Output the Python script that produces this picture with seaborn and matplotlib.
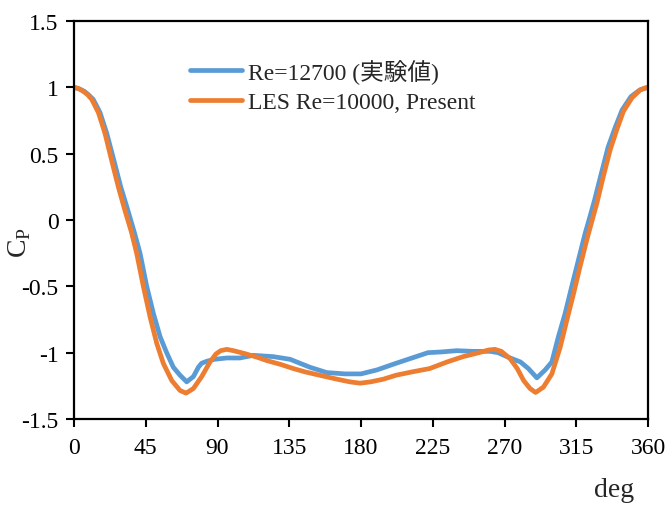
import numpy as np
import pandas as pd
import matplotlib
matplotlib.use("Agg")
import matplotlib.pyplot as plt
import seaborn as sns

# --- data ---
exp_deg = [0, 3, 6.5, 9, 12, 16.3, 20.5, 25, 29.3, 33.6, 38, 41.4, 45.6, 49.8, 54, 58.1,
           62.3, 66.5, 70.7, 74.9, 78, 80, 83.2, 88, 95.8, 104, 112.5, 125, 135.5, 148,
           158.5, 170, 180, 190, 202, 212, 222, 230, 240, 250, 261, 266, 271.5, 280, 285,
           290.3, 295.5, 299.7, 303.8, 308, 312.2, 316.4, 320.6, 323, 326.5, 330.7, 335,
           339.5, 343.8, 349.3, 354.8, 360]
exp_cp = [1.0, 0.99, 0.97, 0.945, 0.91, 0.81, 0.655, 0.45, 0.25, 0.08, -0.1, -0.25, -0.50,
          -0.705, -0.88, -1.0, -1.11, -1.17, -1.22, -1.18, -1.11, -1.08, -1.065, -1.05,
          -1.04, -1.04, -1.02, -1.03, -1.05, -1.11, -1.15, -1.16, -1.16, -1.13, -1.08,
          -1.04, -1.0, -0.995, -0.985, -0.99, -0.99, -1.0, -1.03, -1.07, -1.12, -1.19,
          -1.13, -1.07, -0.88, -0.705, -0.50, -0.30, -0.10, 0.0, 0.15, 0.35, 0.55, 0.70,
          0.83, 0.93, 0.98, 1.0]

les_deg = [0, 3, 5.8, 8.5, 11.1, 15.3, 19.4, 23.6, 27.8, 32, 36, 39.3, 43.5, 47.7, 51.9,
           56, 61.3, 66.5, 70.3, 74.9, 80.1, 85.3, 89, 92, 95.8, 100, 108, 115, 121, 130,
           137.6, 145, 154, 165, 173, 179.4, 186, 194, 202, 212, 223, 234, 244, 254, 260,
           264, 268, 273.5, 278, 282, 286, 289.5, 294.4, 299.7, 304.9, 309.1, 313.3,
           317.4, 321.6, 325, 327.9, 332, 336.3, 340.4, 344.6, 349.9, 355.1, 358, 360]
les_cp = [1.0, 0.99, 0.97, 0.945, 0.91, 0.81, 0.655, 0.45, 0.25, 0.07, -0.09, -0.25, -0.50,
          -0.73, -0.93, -1.08, -1.21, -1.285, -1.305, -1.27, -1.18, -1.07, -1.01, -0.985,
          -0.975, -0.985, -1.01, -1.035, -1.06, -1.09, -1.12, -1.145, -1.17, -1.20, -1.22,
          -1.23, -1.22, -1.20, -1.17, -1.145, -1.12, -1.07, -1.03, -1.0, -0.98, -0.975,
          -0.99, -1.045, -1.12, -1.21, -1.27, -1.30, -1.26, -1.16, -0.96, -0.755, -0.555,
          -0.35, -0.15, 0.0, 0.125, 0.33, 0.53, 0.68, 0.82, 0.92, 0.98, 0.995, 1.0]

series_names = ["Re=12700 (実験値)", "LES Re=10000, Present"]
series_colors = ["#5B9BD5", "#ED7D31"]
x_ticks = [0, 45, 90, 135, 180, 225, 270, 315, 360]
y_ticks = [-1.5, -1, -0.5, 0, 0.5, 1, 1.5]
y_tick_labels = ["-1.5", "-1", "-0.5", "0", "0.5", "1", "1.5"]

df = pd.concat([
    pd.DataFrame({"deg": exp_deg, "cp": exp_cp, "series": series_names[0]}),
    pd.DataFrame({"deg": les_deg, "cp": les_cp, "series": series_names[1]}),
])

sns.set_theme(style="white")
plt.rcParams["font.family"] = ["Liberation Serif", "Noto Sans CJK JP"]
plt.rcParams["mathtext.fontset"] = "custom"
plt.rcParams["mathtext.rm"] = "Liberation Serif"

fig = plt.figure(figsize=(6.66, 5.06), dpi=100)
ax = fig.add_axes([74 / 666, 1 - 420 / 506, (648 - 74) / 666, (420 - 22) / 506])

sns.lineplot(data=df, x="deg", y="cp", hue="series", hue_order=series_names,
             palette=series_colors, linewidth=3.4, sort=False, ax=ax, legend=True)
for ln in ax.get_lines():
    ln.set_solid_joinstyle("round")
    ln.set_solid_capstyle("round")

ax.set_xlim(0, 360)
ax.set_ylim(-1.5, 1.5)
ax.set_xticks(x_ticks)
ax.set_xticklabels([str(t) for t in x_ticks])
ax.set_yticks(y_ticks)
ax.set_yticklabels(y_tick_labels)
ax.tick_params(axis="both", direction="out", length=6, width=1.5, labelsize=17,
               colors="black", bottom=True, left=True)
ax.tick_params(axis="x", pad=7)
ax.tick_params(axis="y", pad=5)
for s in ax.spines.values():
    s.set_color("black")
    s.set_linewidth(1.6)
ax.set_xlabel("")
ax.set_ylabel("")

fig.text(20 / 666, 1 - 243 / 506, r"C$_\mathrm{P}$", rotation=90, fontsize=20,
         ha="center", va="center")
fig.text(614 / 666, 1 - 497 / 506, "deg", fontsize=20, ha="center", va="baseline")

leg = ax.legend(frameon=False, loc="upper left", bbox_to_anchor=(0.202, 0.905),
                fontsize=17, handlelength=2.2, handletextpad=0.25, labelspacing=0.33,
                borderaxespad=0, borderpad=0)
for h in leg.get_lines():
    h.set_linewidth(3.4)

fig.savefig("out.png", dpi=100)
